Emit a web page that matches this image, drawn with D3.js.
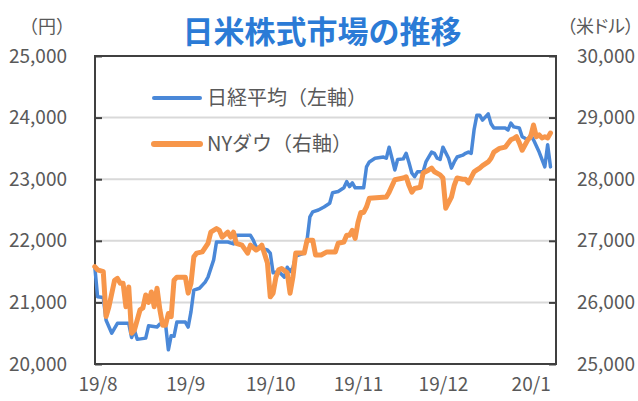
<!DOCTYPE html>
<html><head><meta charset="utf-8">
<script src="https://cdn.jsdelivr.net/npm/d3@7"></script>
<style>body{margin:0;background:#fff}svg{display:block}</style>
</head><body>
<svg id="chart" width="638" height="401"></svg>
<script>
const titleText = "日米株式市場の推移";
const leftUnit = "（円）";
const rightUnit = "（米ドル）";
const seriesNames = ["日経平均（左軸）", "NYダウ（右軸）"];
const monthTicks = ["2019-08-01", "2019-09-01", "2019-10-01", "2019-11-01", "2019-12-01", "2020-01-01"];
const monthLabels = ["19/8", "19/9", "19/10", "19/11", "19/12", "20/1"];
const leftTicks = [20000, 21000, 22000, 23000, 24000, 25000];
const rightTicks = [25000, 26000, 27000, 28000, 29000, 30000];

// days since 2019-08-01
const nikkeiDay = [-1,0,2,3,5,7,11,12,13,14,
 17,18,21,22,24,25,26,27,28,31,
 32,33,34,36,38,39,41,42,46,48,
 49,54,55,56,60,61,62,64,66,67,
 68,69,70,73,74,75,76,78,80,82,
 83,85,87,88,89,90,91,94,95,96,
 98,101,102,103,104,105,106,108,109,110,
 111,112,113,115,116,118,119,120,121,122,
 124,125,126,127,129,130,131,132,133,134,
 135,136,138,139,140,144,145,146,147,149,
 150,152,153,154,156,158,159,160];
const nikkeiValue = [21580,21090,21080,20710,20500,20660,20660,20430,20550,20400,
 20420,20620,20600,20650,20650,20230,20460,20450,20680,20680,
 20600,20850,21200,21230,21330,21410,21690,21980,21980,21950,
 22090,22090,22010,21900,21850,21800,21480,21500,21410,21570,
 21500,21560,21750,21800,22010,22390,22470,22500,22550,22610,
 22780,22800,22860,22960,22880,22940,22860,22860,23200,23280,
 23340,23360,23340,23520,23340,23150,23320,23330,23420,23270,
 23100,23040,23120,23120,23280,23440,23420,23340,23320,23520,
 23340,23180,23280,23360,23390,23420,23440,23420,23800,24040,
 24040,23960,24060,23900,23830,23830,23800,23910,23850,23830,
 23690,23640,23720,23640,23440,23200,23560,23200];

const dowDay = [-1,0,2,3,4,6,7,8,9,10,
 11,12,13,15,16,17,18,19,20,21,
 22,23,24,25,26,27,28,31,32,33,
 34,35,37,39,40,42,43,44,46,47,
 48,49,51,53,54,56,57,58,60,61,
 62,63,64,65,67,68,69,70,73,74,
 76,77,79,81,84,85,87,88,89,90,
 91,92,93,94,95,96,102,103,105,108,
 109,110,111,112,114,115,117,118,119,121,
 122,123,125,126,127,129,130,131,133,134,
 135,136,138,139,140,142,144,146,147,148,
 149,150,152,153,154,155,156,157,158,159,
 160];
const dowValue = [26580,26530,26500,25770,25930,26360,26390,26310,26310,25930,
 26250,25500,25550,25880,25910,26120,26000,26170,25930,26230,
 25880,25630,25630,25820,25770,26360,26410,26410,26150,26310,
 26740,26800,26820,26960,27140,27200,27170,27060,27140,27060,
 27140,26960,26930,26800,26930,26850,26880,26930,26640,26090,
 26150,26410,26530,26550,26480,26150,26410,26800,26800,27010,
 27010,26770,26770,26820,26820,26960,26980,27090,27090,27170,
 27040,27300,27460,27460,27550,27690,27710,27790,27990,28020,
 28040,27900,27790,27850,27870,28100,28150,28180,28120,28070,
 28020,27530,27710,27900,28020,28000,28000,27940,28120,28150,
 28180,28220,28280,28340,28440,28500,28520,28640,28660,28690,
 28590,28470,28640,28690,28880,28690,28720,28670,28690,28670,
 28750];

const DAY = 864e5;
const base = Date.UTC(2019, 7, 1);
const toDate = d => new Date(base + d * DAY);

const m = {left: 95, right: 556, top: 56, bottom: 364};
const FONT = "'Noto Sans CJK JP', 'Noto Sans', sans-serif";
const textColor = "#595959";
const blue = "#4a88d8", orange = "#f7964a";

const svg = d3.select("#chart").style("font-family", FONT);

const x = d3.scaleUtc().domain([toDate(-0.92), toDate(161.95)]).range([m.left, m.right]);
const yL = d3.scaleLinear().domain([leftTicks[0], leftTicks[leftTicks.length-1]]).range([m.bottom, m.top]);
const yR = d3.scaleLinear().domain([rightTicks[0], rightTicks[rightTicks.length-1]]).range([m.bottom, m.top]);

// gridlines
svg.append("g").selectAll("line").data(leftTicks.slice(1, -1)).join("line")
  .attr("x1", m.left).attr("x2", m.right)
  .attr("y1", d => yL(d)).attr("y2", d => yL(d))
  .attr("stroke", "#d9d9d9").attr("stroke-width", 2);

// axes
const fmt = d3.format(",");
const gL = svg.append("g").attr("transform", `translate(${m.left},0)`)
  .call(d3.axisLeft(yL).tickValues(leftTicks).tickFormat(fmt).tickSize(-7).tickPadding(28));
const gR = svg.append("g").attr("transform", `translate(${m.right},0)`)
  .call(d3.axisRight(yR).tickValues(rightTicks).tickFormat(fmt).tickSize(-7).tickPadding(21));
const gX = svg.append("g").attr("transform", `translate(0,${m.bottom})`)
  .call(d3.axisBottom(x).tickValues(monthTicks.map(s => new Date(s + "T00:00:00Z")))
    .tickFormat((d, i) => monthLabels[i]).tickSize(0).tickPadding(14));
[gL, gR, gX].forEach(g => {
  g.select(".domain").remove();
  g.selectAll(".tick line").attr("stroke", "#404040").attr("stroke-width", 2);
  g.selectAll("text").attr("fill", textColor).style("font-size", "19px").style("font-family", FONT);
});

// frame
svg.append("rect").attr("x", m.left).attr("y", m.top)
  .attr("width", m.right - m.left).attr("height", m.bottom - m.top)
  .attr("fill", "none").attr("stroke", "#404040").attr("stroke-width", 2);

// lines
const nikkei = nikkeiDay.map((d, i) => ({date: toDate(d), v: nikkeiValue[i]}));
const dow = dowDay.map((d, i) => ({date: toDate(d), v: dowValue[i]}));
svg.append("path").datum(nikkei)
  .attr("d", d3.line().x(d => x(d.date)).y(d => yL(d.v)))
  .attr("fill", "none").attr("stroke", blue).attr("stroke-width", 3.5)
  .attr("stroke-linejoin", "round").attr("stroke-linecap", "round");
svg.append("path").datum(dow)
  .attr("d", d3.line().x(d => x(d.date)).y(d => yR(d.v)))
  .attr("fill", "none").attr("stroke", orange).attr("stroke-width", 5)
  .attr("stroke-linejoin", "round").attr("stroke-linecap", "round");

// legend
const legend = svg.append("g");
const legItems = [{name: seriesNames[0], color: blue, w: 4, y: 98}, {name: seriesNames[1], color: orange, w: 6, y: 144}];
legItems.forEach(it => {
  legend.append("line").attr("x1", 154).attr("x2", 200).attr("y1", it.y).attr("y2", it.y)
    .attr("stroke", it.color).attr("stroke-width", it.w).attr("stroke-linecap", "round");
  legend.append("text").attr("x", 207).attr("y", it.y).attr("dy", "0.35em")
    .attr("fill", textColor).style("font-size", "20px").text(it.name);
});

// title & units
svg.append("text").attr("x", 322).attr("y", 32).attr("dy", "0.35em").attr("text-anchor", "middle")
  .attr("fill", "#2b7bd6").style("font-size", "31px").style("font-weight", "700").text(titleText);
svg.append("text").attr("x", 47).attr("y", 27).attr("dy", "0.35em").attr("text-anchor", "middle")
  .attr("fill", textColor).style("font-size", "18px").text(leftUnit);
svg.append("text").attr("x", 634).attr("y", 27).attr("dy", "0.35em").attr("text-anchor", "end")
  .attr("fill", textColor).style("font-size", "18px")
  .style("font-feature-settings", "'palt' 1").text(rightUnit);
</script>
</body></html>
